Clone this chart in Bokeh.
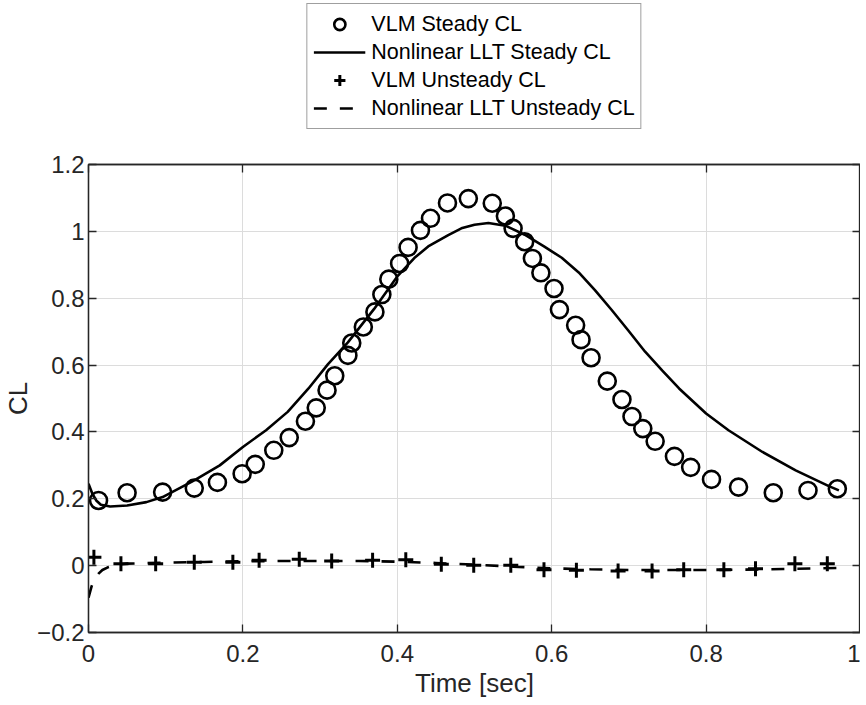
from bokeh.plotting import figure
from bokeh.layouts import column
from bokeh.models import (Legend, LegendItem, LinearAxis, FixedTicker,
                          CustomJSTickFormatter, ColumnDataSource, Range1d)
from bokeh.embed import file_html
from bokeh.resources import INLINE

# ---------------- data ----------------
vlm_steady_t = [0.013, 0.050, 0.096, 0.137, 0.167, 0.199, 0.216, 0.240, 0.260, 0.281,
                0.295, 0.309, 0.319, 0.336, 0.341, 0.356, 0.371, 0.380, 0.389, 0.403,
                0.414, 0.430, 0.443, 0.465, 0.492, 0.523, 0.540, 0.550, 0.565, 0.575,
                0.586, 0.603, 0.610, 0.631, 0.638, 0.651, 0.672, 0.691, 0.704, 0.718,
                0.734, 0.759, 0.780, 0.807, 0.842, 0.887, 0.932, 0.970]
vlm_steady_cl = [0.195, 0.218, 0.220, 0.232, 0.249, 0.275, 0.303, 0.345, 0.383, 0.432,
                 0.472, 0.525, 0.568, 0.629, 0.666, 0.714, 0.759, 0.811, 0.857, 0.904,
                 0.952, 1.003, 1.039, 1.085, 1.098, 1.084, 1.046, 1.009, 0.969, 0.919,
                 0.876, 0.829, 0.766, 0.719, 0.676, 0.622, 0.552, 0.497, 0.446, 0.410,
                 0.372, 0.327, 0.294, 0.258, 0.235, 0.218, 0.225, 0.230]

llt_steady_t = [0.0, 0.005, 0.010, 0.016, 0.028, 0.050, 0.075, 0.096, 0.137, 0.170,
                0.200, 0.230, 0.258, 0.285, 0.310, 0.336, 0.370, 0.400, 0.422, 0.440,
                0.466, 0.483, 0.500, 0.518, 0.540, 0.565, 0.590, 0.613, 0.635, 0.656,
                0.678, 0.700, 0.721, 0.743, 0.765, 0.786, 0.800, 0.829, 0.873, 0.916,
                0.959, 0.972]
llt_steady_cl = [0.245, 0.215, 0.195, 0.182, 0.177, 0.180, 0.190, 0.205, 0.255, 0.300,
                 0.355, 0.405, 0.460, 0.530, 0.602, 0.668, 0.768, 0.865, 0.920, 0.955,
                 0.989, 1.009, 1.020, 1.025, 1.017, 0.990, 0.955, 0.921, 0.877, 0.824,
                 0.764, 0.701, 0.640, 0.584, 0.530, 0.485, 0.455, 0.405, 0.340, 0.285,
                 0.238, 0.225]

vlm_unsteady_t = [0.007, 0.042, 0.087, 0.137, 0.187, 0.221, 0.273, 0.315, 0.368, 0.411,
                  0.457, 0.499, 0.547, 0.590, 0.632, 0.686, 0.730, 0.771, 0.823, 0.864,
                  0.915, 0.957]
vlm_unsteady_cl = [0.025, 0.006, 0.006, 0.010, 0.010, 0.016, 0.019, 0.014, 0.016, 0.018,
                   0.004, 0.001, 0.001, -0.012, -0.014, -0.016, -0.016, -0.012, -0.012, -0.009,
                   0.006, 0.006]

llt_unsteady_t = [0.0, 0.004, 0.008, 0.013, 0.018, 0.025, 0.035, 0.05, 0.1, 0.15, 0.2,
                  0.25, 0.3, 0.35, 0.4, 0.45, 0.5, 0.55, 0.6, 0.65, 0.7, 0.75, 0.8,
                  0.85, 0.9, 0.95, 0.972]
llt_unsteady_cl = [-0.096, -0.062, -0.038, -0.024, -0.013, -0.005, 0.002, 0.006, 0.009,
                   0.011, 0.013, 0.014, 0.014, 0.014, 0.012, 0.008, 0.003, -0.003, -0.008,
                   -0.011, -0.013, -0.013, -0.013, -0.012, -0.010, -0.008, -0.007]

x_ticks = [0, 0.2, 0.4, 0.6, 0.8, 1.0]
y_ticks = [-0.2, 0, 0.2, 0.4, 0.6, 0.8, 1.0, 1.2]

legend_labels = ["VLM Steady CL", "Nonlinear LLT Steady CL",
                 "VLM Unsteady CL", "Nonlinear LLT Unsteady CL"]

# ---------------- styles ----------------
FONT = "Liberation Sans"
AX = "#262626"
DASH = "13 13"


def add_series(fig, srcs):
    r1 = fig.scatter("t", "cl", source=srcs[0], marker="circle", size=17,
                     fill_color=None, line_color="black", line_width=2.6)
    r2 = fig.line("t", "cl", source=srcs[1], line_color="black", line_width=2.6)
    r3 = fig.scatter("t", "cl", source=srcs[2], marker="cross", size=15,
                     line_color="black", line_width=3)
    r4 = fig.line("t", "cl", source=srcs[3], line_color="black", line_width=2.6,
                  line_dash=DASH)
    return [r1, r2, r3, r4]


srcs = [ColumnDataSource(dict(t=vlm_steady_t, cl=vlm_steady_cl)),
        ColumnDataSource(dict(t=llt_steady_t, cl=llt_steady_cl)),
        ColumnDataSource(dict(t=vlm_unsteady_t, cl=vlm_unsteady_cl)),
        ColumnDataSource(dict(t=llt_unsteady_t, cl=llt_unsteady_cl))]

# ---------------- main plot ----------------
p = figure(width=860, height=553,
           min_border_left=88, min_border_right=0,
           min_border_top=13, min_border_bottom=72,
           x_range=Range1d(0, 1), y_range=Range1d(-0.2, 1.2),
           output_backend="svg", toolbar_location=None)
p.background_fill_color = "white"
p.border_fill_color = "white"
p.outline_line_color = AX
p.outline_line_width = 1.3

fmt = CustomJSTickFormatter(code="""
    let s = tick.toFixed(1).replace(/\\.0$/, '');
    if (s === '-0') s = '0';
    return s.replace('-', '\\u2212');
""")
blank = CustomJSTickFormatter(code="return '';")

for ax in (p.xaxis[0], p.yaxis[0]):
    ax.formatter = fmt
    ax.major_tick_in = 8
    ax.major_tick_out = 0
    ax.minor_tick_line_color = None
    ax.axis_line_color = AX
    ax.axis_line_width = 1.3
    ax.major_tick_line_color = AX
    ax.major_tick_line_width = 1.3
    ax.major_label_text_font = FONT
    ax.major_label_text_font_size = "24px"
    ax.major_label_text_color = AX
    ax.axis_label_text_font = FONT
    ax.axis_label_text_font_size = "26px"
    ax.axis_label_text_font_style = "normal"
    ax.axis_label_text_color = AX

p.xaxis.ticker = FixedTicker(ticks=x_ticks)
p.yaxis.ticker = FixedTicker(ticks=y_ticks)
p.xaxis.axis_label = "Time [sec]"
p.yaxis.axis_label = "CL"
p.xaxis.major_label_standoff = 12
p.xaxis.axis_label_standoff = 3
p.yaxis.major_label_standoff = 4
p.yaxis.axis_label_standoff = 1

for loc, tk in (("above", x_ticks), ("right", y_ticks)):
    a = LinearAxis(ticker=FixedTicker(ticks=tk), formatter=blank)
    a.major_tick_in = 8
    a.major_tick_out = 0
    a.minor_tick_line_color = None
    a.axis_line_color = AX
    a.axis_line_width = 1.3
    a.major_tick_line_color = AX
    a.major_tick_line_width = 1.3
    a.major_label_standoff = 0
    a.axis_label_standoff = 0
    a.major_label_text_font_size = "0px"
    p.add_layout(a, loc)

p.xgrid.ticker = FixedTicker(ticks=x_ticks)
p.ygrid.ticker = FixedTicker(ticks=y_ticks)
for g in (p.xgrid[0], p.ygrid[0]):
    g.grid_line_color = "#dcdcdc"
    g.grid_line_width = 1

add_series(p, srcs)

# ---------------- legend strip (above the axes) ----------------
# same series, but this strip's ranges show none of the data: only the legend is seen
lf = figure(width=860, height=151, min_border_left=88, min_border_right=0,
            min_border_top=3, min_border_bottom=0,
            x_range=Range1d(5, 6), y_range=Range1d(5, 6),
            x_axis_type=None, y_axis_type=None,
            output_backend="svg", toolbar_location=None)
lf.outline_line_color = None
lf.grid.visible = False
lf.background_fill_color = "white"
lf.border_fill_color = "white"
leg_r = add_series(lf, srcs)

legend = Legend(items=[LegendItem(label=lab, renderers=[r])
                       for lab, r in zip(legend_labels, leg_r)],
                location="top_center")
legend.label_text_font = FONT
legend.label_text_font_size = "21.5px"
legend.label_text_color = "black"
legend.glyph_width = 52
legend.glyph_height = 28
legend.label_height = 28
legend.spacing = 0
legend.padding = 6
legend.label_standoff = 6
legend.margin = 0
legend.border_line_color = "#404040"
legend.border_line_width = 1.2
legend.background_fill_color = "white"
legend.background_fill_alpha = 1.0
lf.add_layout(legend, "center")

layout = column(lf, p, spacing=0)
open("out.html", "w").write(file_html(layout, INLINE))
